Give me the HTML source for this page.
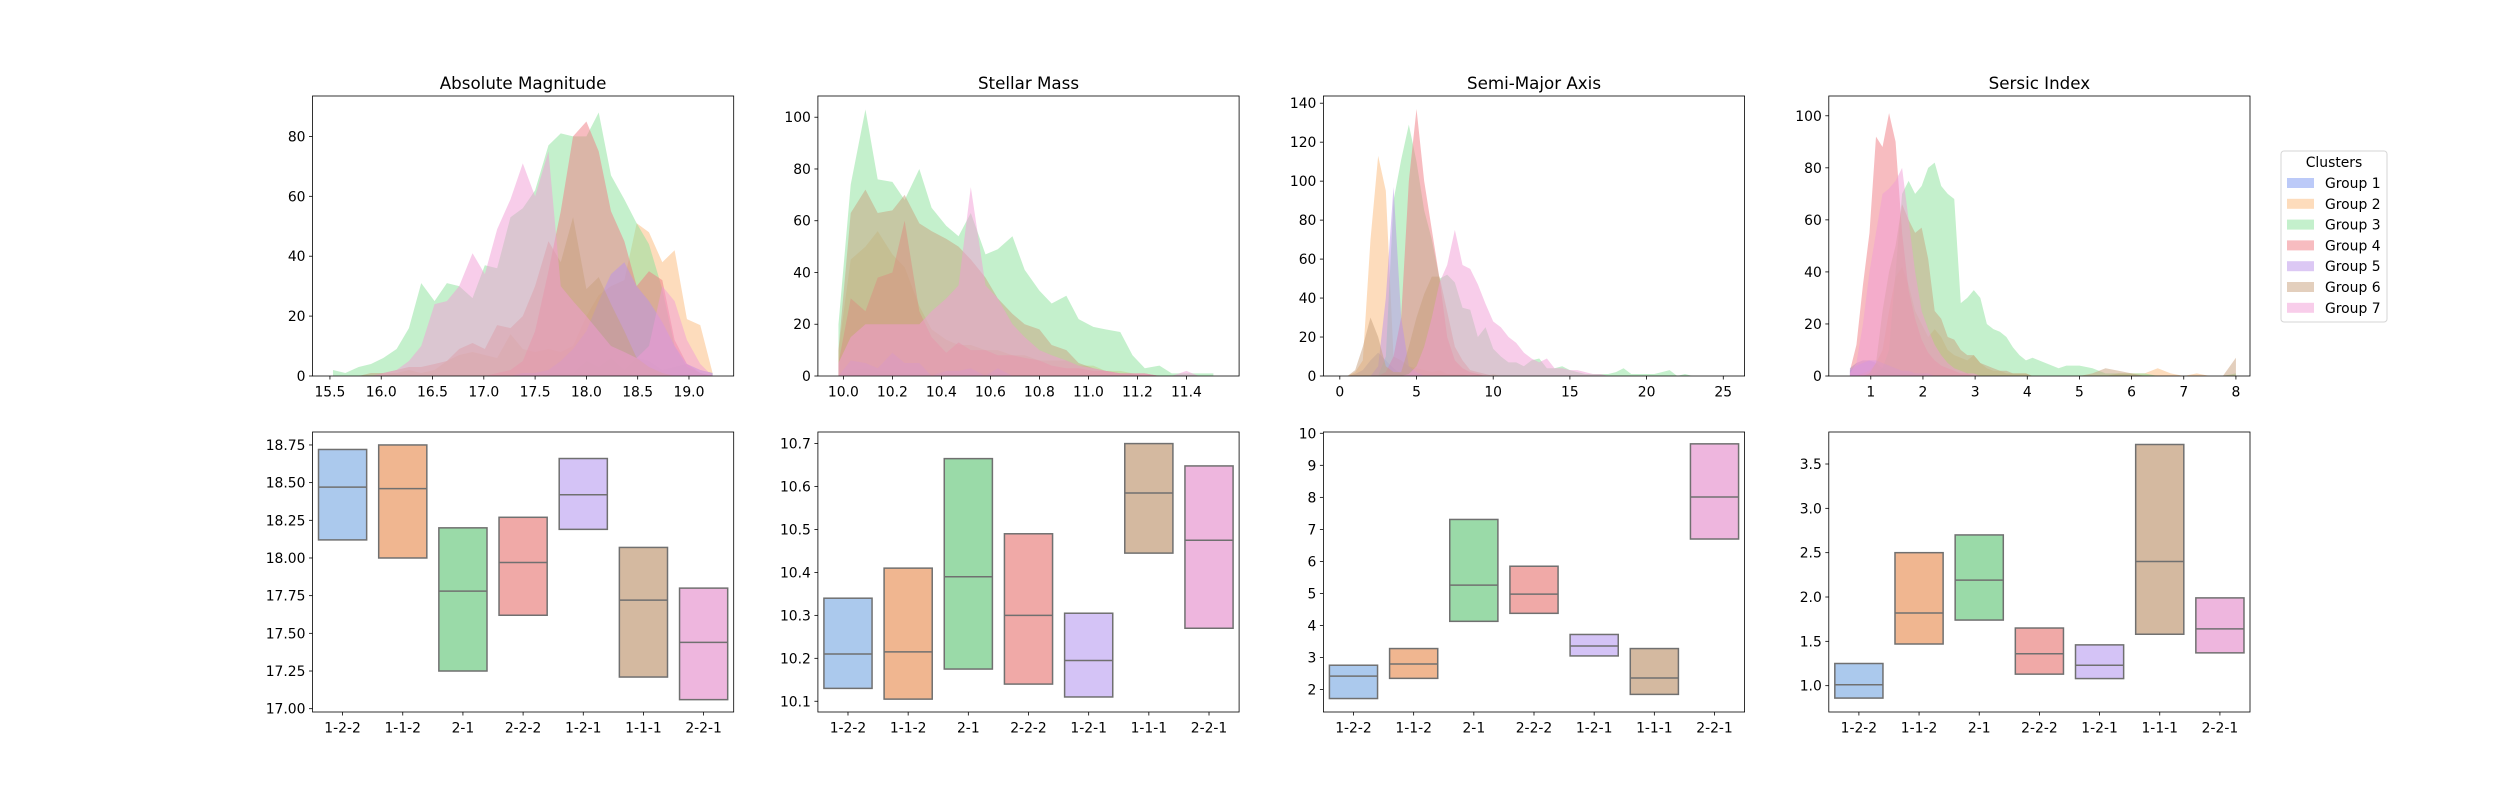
<!DOCTYPE html>
<html>
<head>
<meta charset="utf-8">
<style>
  html, body { margin:0; padding:0; background:#fff; }
  svg { display:block; }
  text { font-family: "DejaVu Sans", "Liberation Sans", sans-serif; fill:#000; }
</style>
</head>
<body>
<svg id="fig" xmlns="http://www.w3.org/2000/svg" width="2500" height="800" viewBox="0 0 2500 800"></svg>
<script>
// ---------- shared ----------
const groupNames = ["Group 1","Group 2","Group 3","Group 4","Group 5","Group 6","Group 7"];
const fillColors = ["#7995f1","#fbb979","#89e199","#ef7981","#b991e9","#c79f7b","#f19bd5"];
const boxColors = ["#abc9ed","#f0b690","#9adaa8","#f0a9a7","#d4c3f6","#d4b9a0","#eeb6de"];
const boxCats = ["1-2-2","1-1-2","2-1","2-2-2","1-2-1","1-1-1","2-2-1"];
const panelTitles = ["Absolute Magnitude","Stellar Mass","Semi-Major Axis","Sersic Index"];

// ---------- Absolute Magnitude histogram ----------
const magX = [15.53,15.65,15.78,15.90,16.02,16.15,16.27,16.39,16.52,16.64,16.76,16.89,17.01,17.13,17.26,17.38,17.50,17.63,17.75,17.87,18.00,18.12,18.24,18.37,18.49,18.61,18.74,18.86,18.98,19.11,19.23];
const magG1 = [0,0,0,0,0,0,0,0,0,0,0,0,0,0,0,0,0,1,1,1,5,3,6,2,6,5,2,3,4,2,1];
const magG2 = [0,0,0,0,1,1,2,1,2,5,7,8,7,6,14,9,8,9,8,10,20,27,30,32,51,48,38,42,19,17,1];
const magG3 = [2,1,3,4,6,9,16,31,25,31,30,26,37,36,53,56,62,77,81,80,80,88,67,59,51,44,29,10,3,1,0];
const magG4 = [0,0,0,0,0,0,0,0,0,0,0,0,0,1,2,5,15,35,55,80,85,75,55,45,30,35,32,12,4,1,0];
const magG5 = [0,0,0,0,0,0,0,0,0,0,0,0,0,0,0,1,1,2,5,9,15,25,34,38,30,25,18,10,4,2,1];
const magG6 = [0,0,0,1,1,2,3,3,4,5,9,11,9,17,16,20,30,45,38,53,29,33,24,15,6,3,1,0,0,0,0];
const magG7 = [0,0,0,0,1,2,5,10,24,25,30,41,34,49,59,71,60,75,30,25,20,15,10,8,6,10,30,25,12,4,0];
const magXTicks = [15.5,16.0,16.5,17.0,17.5,18.0,18.5,19.0];
const magXTickLabels = ["15.5","16.0","16.5","17.0","17.5","18.0","18.5","19.0"];
const magYTicks = [0,20,40,60,80];

// ---------- Stellar Mass histogram ----------
const massX = [9.98,10.03,10.09,10.14,10.20,10.25,10.31,10.36,10.42,10.47,10.52,10.58,10.63,10.69,10.74,10.80,10.85,10.91,10.96,11.02,11.07,11.13,11.18,11.23,11.29,11.34,11.40,11.45,11.51];
const massG1 = [0,2,3,2,2,1,1,1,1,1,1,1,1,0,0,0,0,0,0,0,0,0,0,0,0,0,0,0,0];
const massG2 = [10,45,50,56,47,42,27,18,14,12,12,10,10,8,8,6,6,6,4,4,2,2,1,1,0,0,0,0,0];
const massG3 = [20,74,103,76,75,68,80,65,58,54,63,47,49,54,41,33,28,31,22,19,18,17,8,3,4,1,1,1,1];
const massG4 = [5,30,25,38,40,60,25,15,9,13,10,10,8,8,7,6,4,3,3,2,2,1,1,1,0,0,0,0,0];
const massG5 = [0,6,5,3,9,5,5,0,2,2,3,0,3,0,0,0,0,0,0,0,0,0,0,0,0,0,0,0,0];
const massG6 = [10,63,72,63,64,70,59,56,53,50,45,38,30,24,20,18,12,10,5,3,2,1,1,0,0,0,0,0,0];
const massG7 = [5,15,20,20,20,20,20,25,30,35,73,35,30,20,15,10,8,6,4,3,2,1,1,1,0,0,2,0,0];
const massXTicks = [10.0,10.2,10.4,10.6,10.8,11.0,11.2,11.4];
const massXTickLabels = ["10.0","10.2","10.4","10.6","10.8","11.0","11.2","11.4"];
const massYTicks = [0,20,40,60,80,100];

// ---------- Semi-Major Axis histogram ----------
const axisX = [0.5,1,1.5,2,2.5,3,3.5,4,4.5,5,5.5,6,6.5,7,7.5,8,8.5,9,9.5,10,10.5,11,11.5,12,12.5,13,13.5,14,14.5,15,15.5,16,16.5,17,17.5,18,18.5,19,19.5,20,20.5,21,21.5,22,22.5,23,23.5,24,24.5,25];
const axisG1 = [0,1,3,8,12,8,4,1,0,0,0,0,0,0,0,0,0,0,0,0,0,0,0,0,0,0,0,0,0,0,0,0,0,0,0,0,0,0,0,0,0,0,0,0,0,0,0,0,0,0];
const axisG2 = [0,2,8,70,113,95,10,8,5,4,3,2,3,1,1,1,0,1,0,1,0,0,0,0,0,0,0,0,0,0,0,0,0,0,0,0,0,0,0,0,0,0,0,0,0,0,0,0,0,0];
const axisG3 = [0,0,0,0,0,10,90,111,129,110,85,70,50,52,48,35,34,20,25,14,10,7,7,5,8,9,4,4,5,3,2,1,1,1,1,2,4,1,1,1,1,2,3,0,1,0,0,0,0,0];
const axisG4 = [0,0,0,0,0,2,10,30,100,137,100,75,50,20,8,4,2,1,0,0,0,0,0,0,0,0,0,0,0,0,0,0,0,0,0,0,0,0,0,0,0,0,0,0,0,0,0,0,0,0];
const axisG5 = [0,0,0,0,5,40,97,30,5,2,0,0,0,0,0,0,0,0,0,0,0,0,0,0,0,0,0,0,0,0,0,0,0,0,0,0,0,0,0,0,0,0,0,0,0,0,0,0,0,0];
const axisG6 = [0,3,15,30,20,5,2,2,15,30,42,51,51,33,15,8,3,2,1,0,0,0,0,0,0,0,0,0,0,0,0,0,0,0,0,0,0,0,0,0,0,0,0,0,0,0,0,0,0,0];
const axisG7 = [0,0,0,0,0,0,0,0,1,5,15,30,48,57,75,57,55,47,37,28,25,20,17,12,9,7,9,4,4,3,3,2,1,1,0,0,0,0,0,0,0,0,0,0,0,0,0,0,0,0];
const axisXTicks = [0,5,10,15,20,25];
const axisXTickLabels = ["0","5","10","15","20","25"];
const axisYTicks = [0,20,40,60,80,100,120,140];

// ---------- Sersic Index histogram ----------
const sersicX = [0.6,0.725,0.85,0.975,1.1,1.225,1.35,1.475,1.6,1.725,1.85,1.975,2.1,2.225,2.35,2.475,2.6,2.725,2.85,2.975,3.1,3.225,3.35,3.475,3.6,3.725,3.85,3.975,4.1,4.225,4.35,4.475,4.6,4.75,5.0,5.25,5.5,5.75,6.0,6.25,6.5,6.75,7.0,7.25,7.5,7.75,8.0];
const sersicG1 = [3,5,6,6,5,3,2,1,1,1,1,1,0,0,0,0,0,0,0,0,0,0,0,0,0,0,0,0,0,0,0,0,0,0,0,0,0,0,0,0,0,0,0,0,0,0,0];
const sersicG2 = [0,0,1,2,5,10,25,38,42,35,25,20,15,18,15,10,8,7,6,8,5,3,2,2,1,1,1,1,0,0,0,0,0,0,0,0,0,1,1,1,3,1,0,1,0,0,0];
const sersicG3 = [0,0,0,0,1,3,10,40,70,75,70,73,80,82,73,70,68,28,30,33,30,20,18,17,15,11,8,6,7,6,5,4,3,4,4,3,1,1,1,1,0,0,0,0,0,0,1];
const sersicG4 = [2,12,35,55,92,88,101,90,55,33,22,14,9,6,4,3,2,1,1,0,0,0,0,0,0,0,0,0,0,0,0,0,0,0,0,0,0,0,0,0,0,0,0,0,0,0,0];
const sersicG5 = [2,4,5,6,6,5,4,3,2,2,1,1,1,0,0,0,0,0,0,0,0,0,0,0,0,0,0,0,0,0,0,0,0,0,0,0,0,0,0,0,0,0,0,0,0,0,0];
const sersicG6 = [0,0,0,1,5,25,40,50,66,60,55,57,45,25,22,15,14,10,8,8,5,4,3,2,2,1,1,1,0,0,0,0,0,0,0,1,3,2,1,0,0,0,0,0,0,0,7];
const sersicG7 = [1,5,20,40,55,70,72,75,80,60,40,25,18,12,8,5,3,2,1,1,0,0,0,0,0,0,0,0,0,0,0,0,0,0,0,0,0,0,0,0,0,0,0,0,0,0,0];
const sersicXTicks = [1,2,3,4,5,6,7,8];
const sersicXTickLabels = ["1","2","3","4","5","6","7","8"];
const sersicYTicks = [0,20,40,60,80,100];

// ---------- box (IQR) panels ----------
const magQ1  = [18.12,18.00,17.25,17.62,18.19,17.21,17.06];
const magMed = [18.47,18.46,17.78,17.97,18.42,17.72,17.44];
const magQ3  = [18.72,18.75,18.20,18.27,18.66,18.07,17.80];
const magBoxTicks = [17.00,17.25,17.50,17.75,18.00,18.25,18.50,18.75];
const magBoxTickLabels = ["17.00","17.25","17.50","17.75","18.00","18.25","18.50","18.75"];

const massQ1  = [10.13,10.105,10.175,10.14,10.11,10.445,10.27];
const massMed = [10.21,10.215,10.39,10.30,10.195,10.585,10.475];
const massQ3  = [10.34,10.41,10.665,10.49,10.305,10.70,10.648];
const massBoxTicks = [10.1,10.2,10.3,10.4,10.5,10.6,10.7];
const massBoxTickLabels = ["10.1","10.2","10.3","10.4","10.5","10.6","10.7"];

const axisQ1  = [1.72,2.35,4.13,4.38,3.05,1.85,6.70];
const axisMed = [2.42,2.80,5.26,4.98,3.36,2.36,8.01];
const axisQ3  = [2.76,3.28,7.31,5.85,3.72,3.28,9.67];
const axisBoxTicks = [2,3,4,5,6,7,8,9,10];
const axisBoxTickLabels = ["2","3","4","5","6","7","8","9","10"];

const sersicQ1  = [0.86,1.47,1.74,1.13,1.08,1.58,1.37];
const sersicMed = [1.01,1.82,2.19,1.36,1.23,2.40,1.64];
const sersicQ3  = [1.25,2.50,2.70,1.65,1.46,3.72,1.99];
const sersicBoxTicks = [1.0,1.5,2.0,2.5,3.0,3.5];
const sersicBoxTickLabels = ["1.0","1.5","2.0","2.5","3.0","3.5"];

// ---------- layout ----------
const NS = "http://www.w3.org/2000/svg";
const svg = document.getElementById("fig");
const axLefts = [312.5, 817.9, 1323.4, 1828.8];
const axW = 421.2;
const topY0 = 96, topY1 = 376, botY0 = 432, botY1 = 712;

function mk(tag, attrs, parent) {
  const e = document.createElementNS(NS, tag);
  for (const k in attrs) e.setAttribute(k, attrs[k]);
  (parent || svg).appendChild(e);
  return e;
}
function linScale(d0, d1, r0, r1) { return v => r0 + (v - d0) / (d1 - d0) * (r1 - r0); }

function drawAxesFrame(g, x0, y0, x1, y1) {
  const r = mk("rect", {x:x0, y:y0, width:x1-x0, height:y1-y0, fill:"none", stroke:"#000", "stroke-width":0.8}, g);
  
  
}
function drawXTicks(g, ticks, labels, sx, yb, name) {
  ticks.forEach((t, i) => {
    const x = sx(t);
    const l = mk("line", {x1:x, x2:x, y1:yb, y2:yb+3.5, stroke:"#000", "stroke-width":0.8}, g);
    
    
    const tx = mk("text", {x:x, y:yb+20.5, "text-anchor":"middle", "font-size":"13.9px"}, g);
    tx.textContent = labels[i];
    
    
  });
}
function drawYTicks(g, ticks, labels, sy, xl, name) {
  ticks.forEach((t, i) => {
    const y = sy(t);
    const l = mk("line", {x1:xl-3.5, x2:xl, y1:y, y2:y, stroke:"#000", "stroke-width":0.8}, g);
    
    
    const tx = mk("text", {x:xl-7, y:y+5, "text-anchor":"end", "font-size":"13.9px"}, g);
    tx.textContent = labels[i];
    
    
  });
}

// ---------- top row: area histograms ----------
const topPanels = [
  {key:"magnitude", xs:magX, series:[magG1,magG2,magG3,magG4,magG5,magG6,magG7], xdom:[15.33,19.436], ymax:93.5, xt:magXTicks, xl:magXTickLabels, yt:magYTicks},
  {key:"stellar-mass", xs:massX, series:[massG1,massG2,massG3,massG4,massG5,massG6,massG7], xdom:[9.896,11.615], ymax:108.2, xt:massXTicks, xl:massXTickLabels, yt:massYTicks},
  {key:"semi-major-axis", xs:axisX, series:[axisG1,axisG2,axisG3,axisG4,axisG5,axisG6,axisG7], xdom:[-1.07,26.39], ymax:143.7, xt:axisXTicks, xl:axisXTickLabels, yt:axisYTicks},
  {key:"sersic-index", xs:sersicX, series:[sersicG1,sersicG2,sersicG3,sersicG4,sersicG5,sersicG6,sersicG7], xdom:[0.195,8.27], ymax:107.6, xt:sersicXTicks, xl:sersicXTickLabels, yt:sersicYTicks}
];

topPanels.forEach((p, pi) => {
  const x0 = axLefts[pi], x1 = x0 + axW;
  const g = mk("g", {});
  
  
  const sx = linScale(p.xdom[0], p.xdom[1], x0, x1);
  const sy = linScale(0, p.ymax, topY1, topY0);
  p.series.forEach((ys, gi) => {
    const n = Math.min(ys.length, p.xs.length);
    let d = "M" + sx(p.xs[0]).toFixed(2) + "," + sy(0).toFixed(2);
    for (let i = 0; i < n; i++) d += " L" + sx(p.xs[i]).toFixed(2) + "," + sy(ys[i]).toFixed(2);
    d += " L" + sx(p.xs[n-1]).toFixed(2) + "," + sy(0).toFixed(2) + " Z";
    const path = mk("path", {d:d, fill:fillColors[gi], "fill-opacity":0.5, stroke:"none"}, g);
    
    
  });
  drawAxesFrame(g, x0, topY0, x1, topY1);
  drawXTicks(g, p.xt, p.xl, sx, topY1, p.key + '-x');
  drawYTicks(g, p.yt, p.yt.map(String), sy, x0, p.key + '-y');
  const title = mk("text", {x:(x0+x1)/2, y:89, "text-anchor":"middle", "font-size":"16.7px"}, g);
  title.textContent = panelTitles[pi];
  
  
});

// ---------- bottom row: IQR boxes ----------
const botPanels = [
  {key:"magnitude", q1:magQ1, med:magMed, q3:magQ3, ydom:[16.978,18.836], yt:magBoxTicks, yl:magBoxTickLabels},
  {key:"stellar-mass", q1:massQ1, med:massMed, q3:massQ3, ydom:[10.075,10.727], yt:massBoxTicks, yl:massBoxTickLabels},
  {key:"semi-major-axis", q1:axisQ1, med:axisMed, q3:axisQ3, ydom:[1.30,10.04], yt:axisBoxTicks, yl:axisBoxTickLabels},
  {key:"sersic-index", q1:sersicQ1, med:sersicMed, q3:sersicQ3, ydom:[0.703,3.861], yt:sersicBoxTicks, yl:sersicBoxTickLabels}
];
const catIdx = boxCats.map((c, i) => i);

botPanels.forEach((p, pi) => {
  const x0 = axLefts[pi], x1 = x0 + axW;
  const g = mk("g", {});
  
  
  const sx = linScale(-0.5, boxCats.length - 0.5, x0, x1);
  const sy = linScale(p.ydom[0], p.ydom[1], botY1, botY0);
  boxCats.forEach((c, i) => {
    const bx0 = sx(i - 0.4), bx1 = sx(i + 0.4);
    const yTop = sy(p.q3[i]), yBot = sy(p.q1[i]);
    const r = mk("rect", {x:bx0, y:yTop, width:bx1-bx0, height:yBot-yTop, fill:boxColors[i], stroke:"#707070", "stroke-width":1.5}, g);
    
    
    const m = mk("line", {x1:bx0, x2:bx1, y1:sy(p.med[i]), y2:sy(p.med[i]), stroke:"#707070", "stroke-width":1.5}, g);
    
    
  });
  drawAxesFrame(g, x0, botY0, x1, botY1);
  drawXTicks(g, catIdx, boxCats, sx, botY1, p.key + '-box-x');
  drawYTicks(g, p.yt, p.yl, sy, x0, p.key + '-box-y');
});

// ---------- legend ----------
const lg = mk("g", {});


const lframe = mk("rect", {x:2281, y:151, width:106, height:171, rx:3, fill:"#fff", "fill-opacity":0.8, stroke:"#d6d6d6", "stroke-width":1}, lg);


const ltitle = mk("text", {x:2334, y:167, "text-anchor":"middle", "font-size":"13.9px"}, lg);
ltitle.textContent = "Clusters";


groupNames.forEach((nm, i) => {
  const cy = 183 + i * 20.8;
  const pr = mk("rect", {x:2287, y:cy-5, width:27, height:10, fill:fillColors[i], "fill-opacity":0.5}, lg);
  
  
  const t = mk("text", {x:2325, y:cy+5, "font-size":"13.9px"}, lg);
  t.textContent = nm;
  
  
});
</script>
</body>
</html>
